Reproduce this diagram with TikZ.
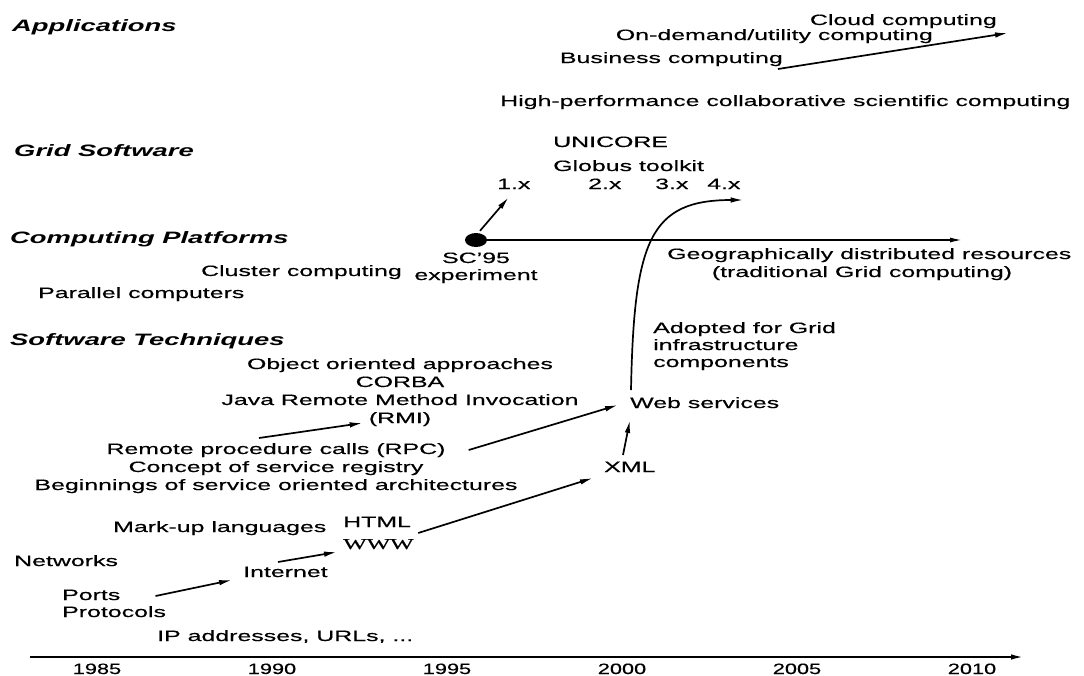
\documentclass[tikz,border=0pt]{standalone}
\usepackage{fontspec}
\setmainfont[FakeStretch=1.66,FakeBold=0.4]{Liberation Sans}
\newfontfamily\headfont[FakeStretch=1.66]{Liberation Sans}
\newfontfamily\wwwfont[FakeStretch=1.66,FakeBold=0.4]{Liberation Serif}
\newfontfamily\yearfont[FakeStretch=1.45,FakeBold=0.4]{Liberation Sans}
\usetikzlibrary{arrows.meta,shapes.geometric}
\tikzset{
  txt/.style={inner sep=0pt, font=\fontsize{15}{18}\selectfont},
  head/.style={inner sep=0pt, font=\headfont\bfseries\itshape\fontsize{16.5}{20}\selectfont},
  wwwtxt/.style={inner sep=0pt, font=\wwwfont\fontsize{15}{18}\selectfont},
  yeartxt/.style={inner sep=0pt, font=\yearfont\fontsize{15}{18}\selectfont},
  arr/.style={-{Latex[length=13pt,width=5.5pt]}, line width=1.7pt},
  dotnode/.style={ellipse, fill=black, inner sep=0pt, minimum width=22pt, minimum height=14pt},
}
\begin{document}
\begin{tikzpicture}[x=1pt,y=-1pt]
\useasboundingbox (0,0) rectangle (1084,675);
% headings
\node[head, anchor=base west] (apps) at (12,31) {Applications};
\node[head, anchor=base west] (gridsw) at (14,156) {Grid Software};
\node[head, anchor=base west] (cplat) at (10,243) {Computing Platforms};
\node[head, anchor=base west] (swtech) at (10,345) {Software Techniques};
% applications
\node[txt, anchor=base east] (cloud) at (997,25) {Cloud computing};
\node[txt, anchor=base east] (ondemand) at (933,40) {On-demand/utility computing};
\node[txt, anchor=base east] (business) at (783,63) {Business computing};
\node[txt, anchor=base west] (hpc) at (500,106) {High-performance collaborative scientific computing};
\draw[arr] ([shift={(-5,6)}]business.base east) -- ([shift={(11,8)}]cloud.base east);
% grid software
\node[txt, anchor=base west] (unicore) at (553,147) {UNICORE};
\node[txt, anchor=base west] (globus) at (553,171) {Globus toolkit};
\node[txt, anchor=base west] (v1) at (497,189) {1.x};
\node[txt, anchor=base west] (v2) at (588,189) {2.x};
\node[txt, anchor=base west] (v3) at (655,189) {3.x};
\node[txt, anchor=base west] (v4) at (707,189) {4.x};
% computing platforms
\node[dotnode] (dot) at (476,240) {};
\coordinate (geoend) at (962,240);
\draw[-{Latex[length=12pt,width=5pt]}, line width=1.4pt] (dot.east) -- (geoend);
\draw[arr] ([shift={(4,-2)}]dot.north) -- ([shift={(-5,8)}]v1.south);
\node[txt, anchor=base] (sc) at (476,263) {SC’95};
\node[txt, anchor=base] (exper) at (476,280) {experiment};
\node[txt, anchor=base east] (cluster) at (402,276) {Cluster computing};
\node[txt, anchor=base west] (parallel) at (38,298) {Parallel computers};
\node[txt, anchor=base west] (geo) at (667,259) {Geographically distributed resources};
\node[txt, anchor=base] (trad) at (862,277) {(traditional Grid computing)};
% software techniques
\node[txt, anchor=base] (objoo) at (400,369) {Object oriented approaches};
\node[txt, anchor=base] (corba) at (400,387) {CORBA};
\node[txt, anchor=base] (java) at (400,405) {Java Remote Method Invocation};
\node[txt, anchor=base] (rmi) at (400,423) {(RMI)};
\node[txt, anchor=base] (rpc) at (276,454) {Remote procedure calls (RPC)};
\node[txt, anchor=base] (concept) at (276,472) {Concept of service registry};
\node[txt, anchor=base] (soa) at (276,490) {Beginnings of service oriented architectures};
\node[txt, anchor=base west] (adopt1) at (653,333) {Adopted for Grid};
\node[txt, anchor=base west] (adopt2) at (653,350) {infrastructure};
\node[txt, anchor=base west] (adopt3) at (653,367) {components};
\node[txt, anchor=base west] (ws) at (630,408) {Web services};
\node[txt, anchor=base west] (xml) at (604,472) {XML};
\node[txt, anchor=base west] (markup) at (113,532) {Mark-up languages};
\node[txt, anchor=base west] (html) at (343,527) {HTML};
\node[wwwtxt, anchor=base west] (www) at (343,549) {WWW};
\node[txt, anchor=base west] (networks) at (14,566) {Networks};
\node[txt, anchor=base west] (internet) at (243,577) {Internet};
\node[txt, anchor=base west] (ports) at (62,600) {Ports};
\node[txt, anchor=base west] (protocols) at (62,617) {Protocols};
\node[txt, anchor=base west] (ip) at (157,641) {IP addresses, URLs, ...};
% arrows
\draw[arr] ([shift={(-17,-16)}]rpc.base) -- ([shift={(-6,0)}]rmi.base west);
\draw[arr] ([shift={(23,-4)}]rpc.base east) -- ([shift={(-12,-3)}]ws.base west);
\draw[arr] ([shift={(19,-17)}]xml.base west) -- ([shift={(0,12)}]ws.base west);
\draw[arr] ([shift={(1,-18)}]ws.base west) .. controls (634,240) and (650,200) .. ([shift={(3,11)}]v4.base east);
\draw[arr] ([shift={(7,6)}]html.base east) -- ([shift={(-11,6)}]xml.base west);
\draw[arr] ([shift={(35,-4)}]ports.base east) -- ([shift={(-11,3)}]internet.base west);
\draw[arr] ([shift={(35,-15)}]internet.base west) -- ([shift={(-6,3)}]www.base west);
% time axis
\coordinate (axs) at (30,657);
\coordinate (axe) at (1024,657);
\draw[-{Latex[length=13pt,width=5.5pt]}, line width=2pt] (axs) -- (axe);
\node[yeartxt, anchor=base] (y1985) at (97,674) {1985};
\node[yeartxt, anchor=base] (y1990) at (272,674) {1990};
\node[yeartxt, anchor=base] (y1995) at (447,674) {1995};
\node[yeartxt, anchor=base] (y2000) at (622,674) {2000};
\node[yeartxt, anchor=base] (y2005) at (797,674) {2005};
\node[yeartxt, anchor=base] (y2010) at (972,674) {2010};
\end{tikzpicture}
\end{document}
